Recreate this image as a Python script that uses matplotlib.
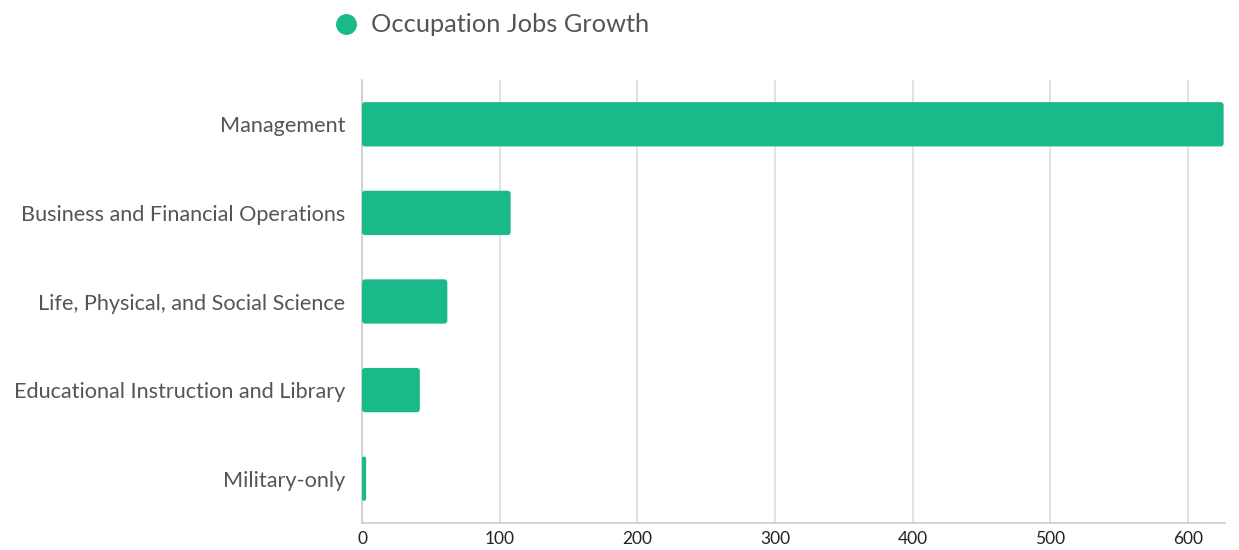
import matplotlib.pyplot as plt
from matplotlib.patches import FancyBboxPatch

# data
categories = ["Management", "Business and Financial Operations",
              "Life, Physical, and Social Science",
              "Educational Instruction and Library", "Military-only"]
growth = [626, 108, 62, 42, 3]
xticks = [0, 100, 200, 300, 400, 500, 600]

plt.rcParams['font.family'] = ['Lato', 'DejaVu Sans']

fig = plt.figure(figsize=(12.39, 5.5), dpi=100)
ax = fig.add_axes([362 / 1239, 1 - 523 / 550, (1225 - 362) / 1239, (523 - 80) / 550])

ypos = list(range(len(categories)))
bars = ax.barh(ypos, growth, height=0.5, color='#1ab98a', zorder=3)

ax.set_xlim(0, 627)
ax.set_ylim(len(categories) - 0.5, -0.5)

# swap plain bars for slightly rounded ones
px_x = 627 / 863.0    # data units per pixel, x
px_y = 5 / 443.0      # data units per pixel, y
for b in bars:
    r = min(3 * px_x, b.get_width() / 2)
    ax.add_patch(FancyBboxPatch((b.get_x(), b.get_y()), b.get_width(), b.get_height(),
                                boxstyle=f"round,pad=0,rounding_size={r}",
                                mutation_aspect=px_y / px_x,
                                fc='#1ab98a', ec='none', zorder=3))
    b.set_visible(False)

ax.set_yticks(ypos)
ax.set_yticklabels(categories, fontsize=15.6, color='#555555')
ax.set_xticks(xticks)
ax.set_xticklabels([str(t) for t in xticks], fontsize=12.5, color='#222222')
ax.tick_params(length=0)
ax.tick_params(axis='y', pad=12)
ax.tick_params(axis='x', pad=6)

ax.grid(axis='x', color='#dddddd', lw=1.2, zorder=0)
for s in ['top', 'right']:
    ax.spines[s].set_visible(False)
for s in ['left', 'bottom']:
    ax.spines[s].set_color('#cccccc')
    ax.spines[s].set_linewidth(1.2)

# legend at top
fig.lines.append(plt.Line2D([346 / 1239], [1 - 24 / 550], marker='o', ms=14,
                            color='#1ab98a', transform=fig.transFigure))
fig.text(371 / 1239, 1 - 25 / 550, 'Occupation Jobs Growth', color='#555555',
         fontsize=18.3, ha='left', va='center')

fig.savefig('out.png', dpi=100)
